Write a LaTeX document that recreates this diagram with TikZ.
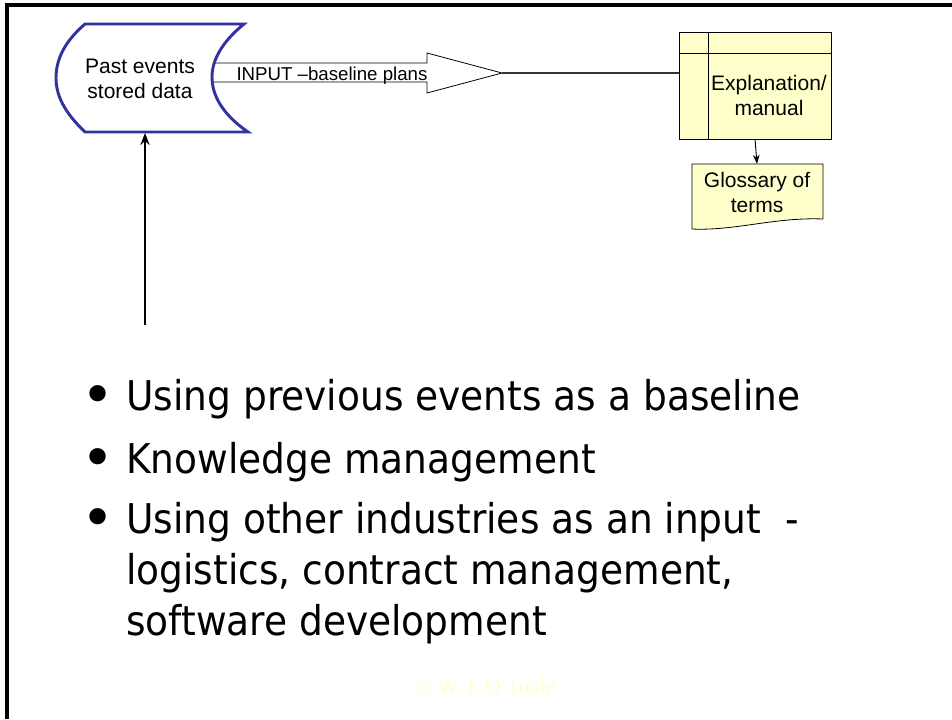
\documentclass[tikz,border=0pt]{standalone}
\usepackage{fontspec}
\setmainfont{Liberation Sans}
\newfontfamily\tahoma[FakeStretch=0.915]{DejaVu Sans}
\newfontfamily\dejav{DejaVu Sans}
\newfontfamily\timesf{Liberation Serif}
\usetikzlibrary{arrows.meta}
\definecolor{dsblue}{RGB}{50,50,160}
\definecolor{paleyel}{RGB}{255,255,204}
\tikzset{
  lbl/.style={font=\fontsize{15.75}{18.75}\selectfont, align=center, inner sep=0pt},
  bul/.style={font=\tahoma\fontsize{30.75}{38}\selectfont, anchor=base west, inner sep=0pt},
  dot/.style={font=\dejav\fontsize{42}{46}\selectfont, anchor=base, inner sep=0pt},
  thinline/.style={line width=0.6pt, draw=black},
}
\begin{document}
\begin{tikzpicture}[x=0.75pt, y=-0.75pt]
\useasboundingbox (0,0) rectangle (952,719);
% frame
\draw[line width=2.4pt] (7,719) -- (7,5) -- (952,5);

% block arrow (behind stored data)
\draw[thinline, fill=white] (213,63) -- (427,63) -- (427,53) -- (502,73) -- (427,93) -- (427,82) -- (213,82);
\coordinate (tip) at (502,73);
\node[lbl, font=\fontsize{14}{16}\selectfont, anchor=base] (inlbl) at (332,80) {INPUT –baseline plans};

% stored data shape
\draw[draw=dsblue, line width=2.2pt, fill=white]
  (85,24) -- (244,24) .. controls (222,42) and (212,60) .. (212,77)
  .. controls (212,95) and (222,114) .. (248,132) -- (85,132)
  .. controls (64,112) and (56,95) .. (56,78)
  .. controls (56,60) and (64,42) .. (85,24) -- cycle;
\node[lbl] (data) at (140,78.5) {Past events\\stored data};
\coordinate (databot) at (145,133);

% table (internal storage)
\draw[thinline, fill=paleyel] (679,32) rectangle (831,139);
\draw[thinline] (708,32) -- (708,139);
\draw[thinline] (679,53) -- (831,53);
\node[lbl] (manual) at (769,95.5) {Explanation/\\manual};
\coordinate (tabL) at (679,73);
\coordinate (tabB) at (755,139);

% glossary (document)
\draw[thinline, fill=paleyel] (692,164) -- (823,164) -- (823,219)
  .. controls (775,217) and (735,231) .. (692,229) -- cycle;
\node[lbl] (gloss) at (757,192.5) {Glossary of\\terms};
\coordinate (glT) at (757,164);

% connectors
\draw[line width=0.8pt, draw=black!80] (tip) -- (tabL);
\draw[line width=0.7pt, -{Stealth[length=7pt,width=5pt]}] (tabB) -- (glT);
\coordinate (vstart) at (145,325);
\draw[line width=1.6pt, -{Stealth[length=9pt,width=7pt]}] (vstart) -- (databot);

% bullets
\node[dot] (b1) at (98.5,414) {•};
\node[bul] (t1) at (126,410) {Using previous events as a baseline};
\node[dot] (b2) at (98.5,477) {•};
\node[bul] (t2) at (126,473) {Knowledge management};
\node[dot] (b3) at (98.5,537) {•};
\node[bul] (t3) at (126,533) {Using other industries as an input\ \ -};
\node[bul] (t4) at (126,584) {logistics, contract management,};
\node[bul] (t5) at (126,635) {software development};

% copyright
\node[font=\timesf\fontsize{15.75}{18}\selectfont, text=paleyel, anchor=base, inner sep=0pt] (copy) at (486,693) {© W. J. O’Toole};
\end{tikzpicture}
\end{document}
